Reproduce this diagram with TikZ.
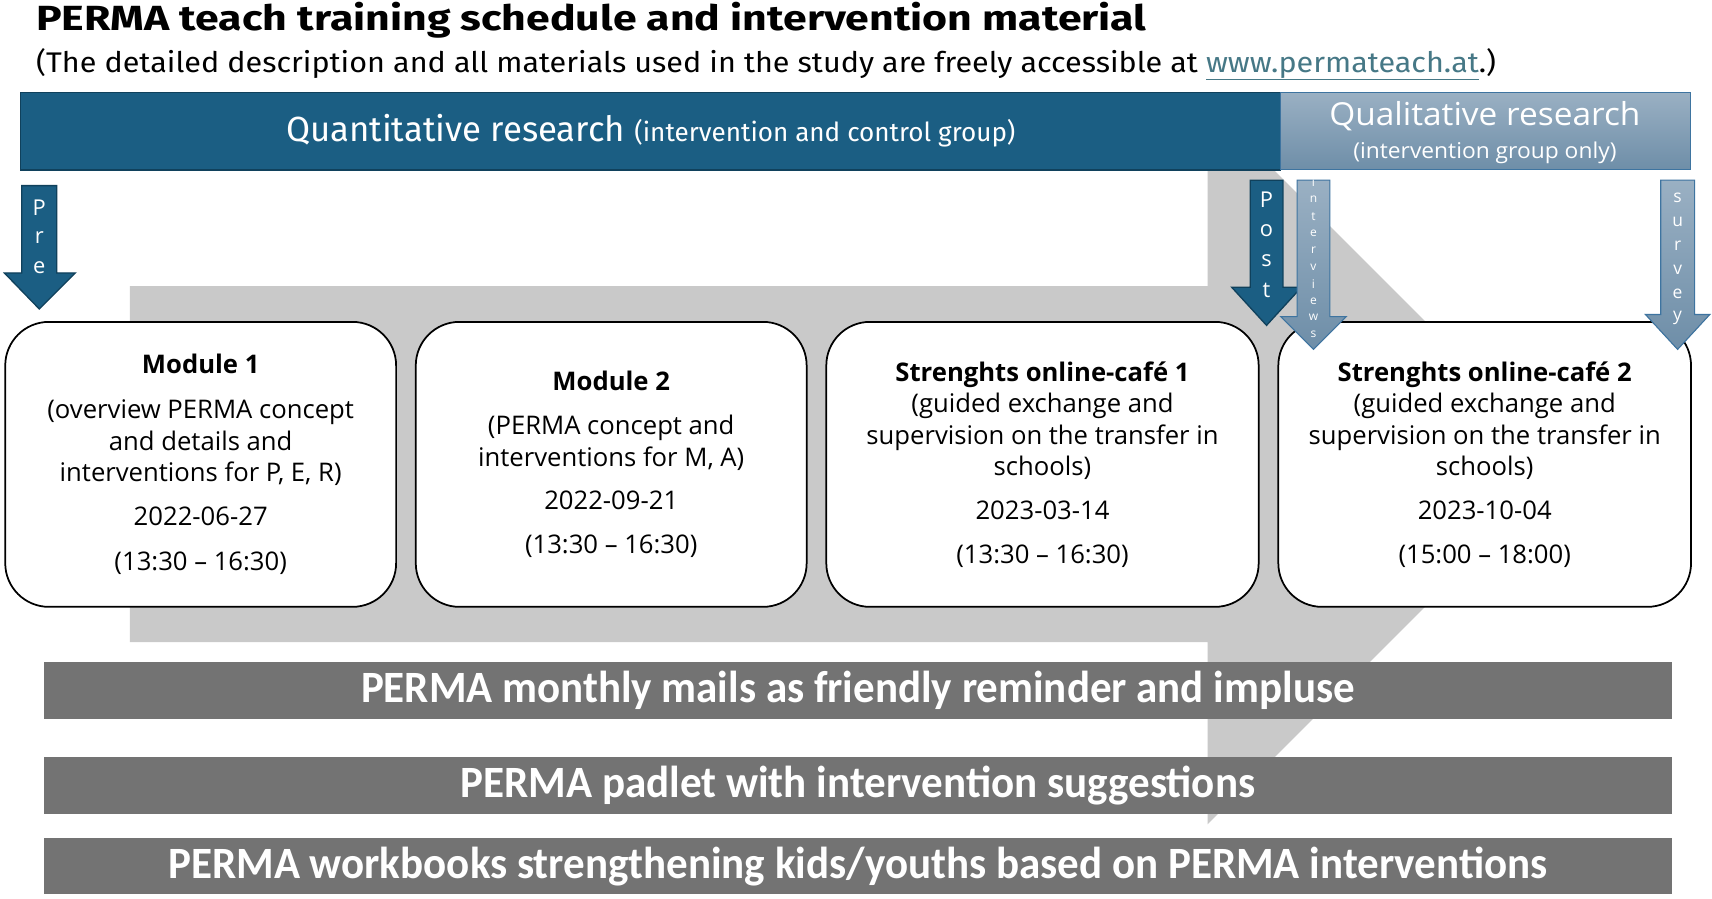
\documentclass[tikz,border=0pt]{standalone}
\usepackage{fontspec}
\usepackage{graphicx}
\setmainfont{Open Sans}
\newfontfamily\titlefont{Fira Sans}
\newfontfamily\barfont{Carlito}
\newfontfamily\subfont{Fira Sans}
\definecolor{qblue}{HTML}{1B5E83}
\definecolor{qborder}{HTML}{10415C}
\definecolor{qltop}{HTML}{9AB0C3}
\definecolor{qlbot}{HTML}{6E8EA8}
\definecolor{qlborder}{HTML}{3E74A0}
\definecolor{arrowgray}{HTML}{C9C9C9}
\definecolor{bargray}{HTML}{737373}
\definecolor{linkcol}{HTML}{467886}
\tikzset{
  quantbar/.style={fill=qblue, draw=qborder, line width=1.2pt, inner sep=0pt, anchor=north west},
  qualbar/.style={top color=qltop, bottom color=qlbot, draw=qlborder, line width=1pt, inner sep=0pt, anchor=north west},
  darrow/.style={fill=qblue, draw=qborder, line width=1.2pt},
  larrow/.style={top color=qltop, bottom color=qlbot, draw=qlborder, line width=1pt},
  modbox/.style={draw=black, fill=white, line width=1.6pt, rounded corners=40pt, inner sep=0pt,
     align=center, font=\fontsize{23.5}{29}\selectfont},
  graybar/.style={fill=bargray, inner sep=0pt, minimum width=1491pt, minimum height=52pt,
     text=white, font=\barfont\bfseries\fontsize{41}{41}\selectfont},
  letter/.style={text=white, inner sep=0pt, font=\fontsize{20}{20}\selectfont},
  smallletter/.style={text=white, inner sep=0pt, font=\fontsize{11}{11}\selectfont},
  midletter/.style={text=white, inner sep=0pt, font=\fontsize{16}{16}\selectfont},
}
\begin{document}
\begin{tikzpicture}[x=1pt,y=-1pt]
\useasboundingbox[fill=white] (0,0) rectangle (1568,823);

% big gray process arrow
\fill[arrowgray] (119,262) -- (1106,262) -- (1106,95) -- (1436,425) -- (1106,755)
  -- (1106,588) -- (119,588) -- cycle;

% title and subtitle
\node[anchor=base west, inner sep=0pt] (title) at (33,28)
  {\titlefont\bfseries\fontsize{32}{32}\selectfont\resizebox{1017pt}{\height}{PERMA teach training schedule and intervention material}};
\node[anchor=base west, inner sep=0pt] (subtitle) at (33,66)
  {\subfont\fontsize{26}{26}\selectfont\resizebox{1337pt}{\height}{(The detailed description and all materials used in the study are freely accessible at \textcolor{linkcol}{\underline{www.permateach.at}}.)}};

% research bars
\node[quantbar, minimum width=1154pt, minimum height=71pt] (quant) at (18,84) {};
\node[qualbar, minimum width=376pt, minimum height=71pt] (qual) at (1172,84) {};
\node[text=white, inner sep=0pt, anchor=base] (quanttext) at (596,130)
  {\subfont\resizebox{668pt}{\height}{\fontsize{32}{32}\selectfont Quantitative research \fontsize{24}{24}\selectfont(intervention and control group)}};
\node[text=white, inner sep=0pt, anchor=base] (qualtext) at (1360,115)
  {\resizebox{285pt}{\height}{\fontsize{29}{29}\selectfont Qualitative research}};
\node[text=white, inner sep=0pt, anchor=base] (qualsub) at (1360,145)
  {\resizebox{241pt}{\height}{\fontsize{20}{20}\selectfont(intervention group only)}};

% module boxes
\node[modbox, minimum width=358pt, minimum height=261pt, anchor=north west] (m1) at (4,294)
  {{\bfseries Module 1}\\[12pt]
   (overview PERMA concept\\ and details and\\ interventions for P, E, R)\\[11pt]
   2022-06-27\\[12pt] (13:30 – 16:30)};
\node[modbox, minimum width=358pt, minimum height=261pt, anchor=north west] (m2) at (380,294)
  {{\bfseries Module 2}\\[11pt]
   (PERMA concept and\\ interventions for M, A)\\[11pt]
   2022-09-21\\[11pt] (13:30 – 16:30)};
\node[modbox, minimum width=396pt, minimum height=261pt, anchor=north west] (m3) at (756,294)
  {{\bfseries Strenghts online-café 1}\\
   (guided exchange and\\ supervision on the transfer in\\ schools)\\[11pt]
   2023-03-14\\[11pt] (13:30 – 16:30)};
\node[modbox, minimum width=378pt, minimum height=261pt, anchor=north west] (m4) at (1170,294)
  {{\bfseries Strenghts online-café 2}\\
   (guided exchange and\\ supervision on the transfer in\\ schools)\\[11pt]
   2023-10-04\\[11pt] (15:00 – 18:00)};

% measurement arrows
\filldraw[darrow] (20,170) -- (52,170) -- (52,250) -- (69,250) -- (36,283) -- (4,250) -- (20,250) -- cycle;
\node[letter] (pre1) at (36,190) {P};
\node[letter] (pre2) at (36,218) {r};
\node[letter] (pre3) at (36,245) {e};

\filldraw[darrow] (1145,165) -- (1175,165) -- (1175,263) -- (1192,263) -- (1160,298) -- (1128,263) -- (1145,263) -- cycle;
\node[letter] (post1) at (1160,183) {P};
\node[letter] (post2) at (1160,211) {o};
\node[letter] (post3) at (1160,239) {s};
\node[letter] (post4) at (1160,266) {t};

\filldraw[larrow] (1188,165) -- (1218,165) -- (1218,290) -- (1233,290) -- (1203,320) -- (1173,290) -- (1188,290) -- cycle;
\foreach \l [count=\i from 0] in {i,n,t,e,r,v,i,e,w,s}
  \node[smallletter] (int\i) at (1203,{167+15.5*\i}) {\l};

\filldraw[larrow] (1521,165) -- (1552,165) -- (1552,288) -- (1566,288) -- (1536.5,320) -- (1507,288) -- (1521,288) -- cycle;
\foreach \l [count=\i from 0] in {s,u,r,v,e,y}
  \node[midletter] (sur\i) at (1536.5,{181+22*\i}) {\l};

% material bars
\node[graybar, anchor=north west] (mails) at (40,606)
  {\resizebox{910pt}{\height}{PERMA monthly mails as friendly reminder and impluse}};
\node[graybar, anchor=north west] (padlet) at (40,693)
  {\resizebox{728pt}{\height}{PERMA padlet with intervention suggestions}};
\node[graybar, anchor=north west] (workbooks) at (40,767)
  {\resizebox{1263pt}{\height}{PERMA workbooks strengthening kids/youths based on PERMA interventions}};
\end{tikzpicture}
\end{document}
